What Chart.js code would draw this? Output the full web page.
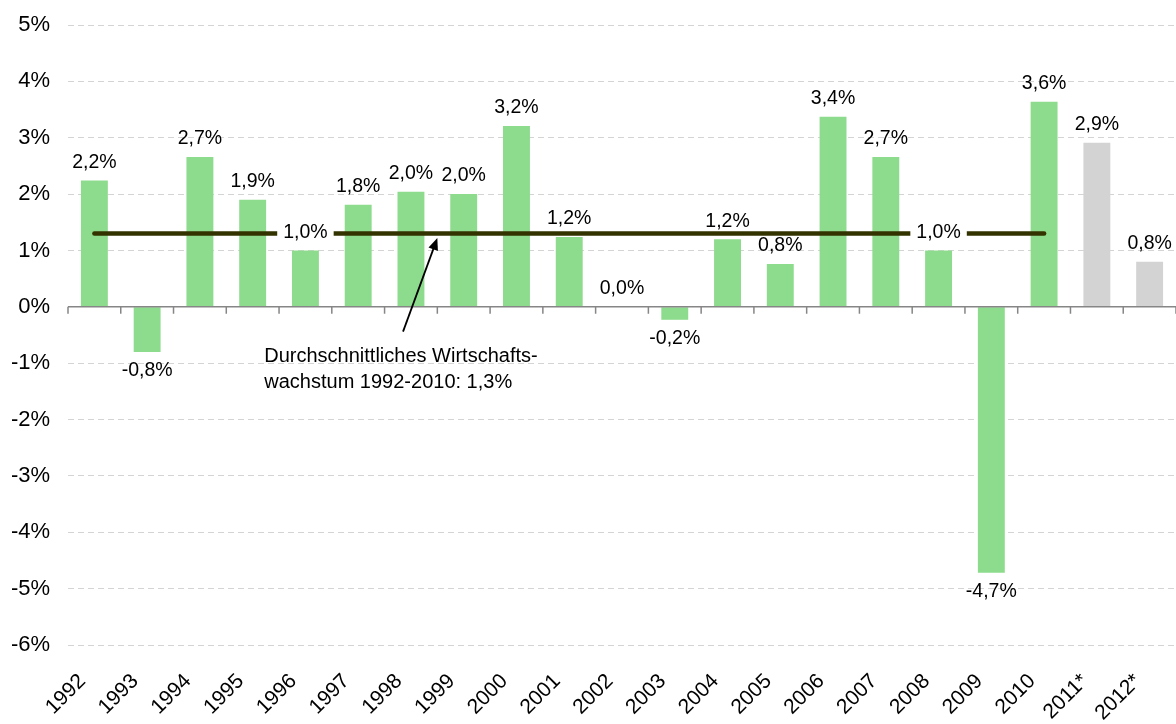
<!DOCTYPE html>
<html>
<head>
<meta charset="utf-8">
<script src="https://cdn.jsdelivr.net/npm/chart.js@4.4.1/dist/chart.umd.min.js"></script>
<style>
  html, body { margin: 0; padding: 0; background: #fff; }
  #wrap { width: 1176px; height: 724px; }
</style>
</head>
<body>
<div id="wrap"><canvas id="growthChart"></canvas></div>
<script>
const years = ['1992', '1993', '1994', '1995', '1996', '1997', '1998', '1999', '2000', '2001', '2002',
  '2003', '2004', '2005', '2006', '2007', '2008', '2009', '2010', '2011*', '2012*'];
const growth = [2.24, -0.8, 2.66, 1.9, 1.0, 1.81, 2.04, 2.0, 3.21, 1.24, 0.0,
  -0.23, 1.2, 0.76, 3.37, 2.66, 1.0, -4.72, 3.64, 2.91, 0.8];
const forecastYears = ['2011*', '2012*'];
const avgGrowth = 1.3;
const avgLastYear = '2010';
const yMin = -6;
const yMax = 5;
const noteLines = ['Durchschnittliches Wirtschafts-', 'wachstum 1992-2010: 1,3%'];

const FONT = "'Liberation Sans', Arial, sans-serif";
const GREEN = '#8ddb8c';
const GREY = '#d3d3d3';

function pct(v) {
  return v.toFixed(1).replace('.', ',') + '%';
}

const avgLine = years.map((y, i) => (i <= years.indexOf(avgLastYear) ? avgGrowth : null));

// zero line with small tick marks between the categories
const zeroAxis = {
  id: 'zeroAxis',
  afterDatasetsDraw(chart) {
    const { ctx, scales: { x, y }, chartArea } = chart;
    const y0 = y.getPixelForValue(0);
    ctx.save();
    ctx.strokeStyle = '#868686';
    ctx.lineWidth = 1.5;
    ctx.beginPath();
    ctx.moveTo(chartArea.left, y0);
    ctx.lineTo(chartArea.right, y0);
    for (let i = 0; i <= years.length; i++) {
      const px = x.getPixelForValue(i - 0.5);
      ctx.moveTo(px, y0);
      ctx.lineTo(px, y0 + 7);
    }
    ctx.stroke();
    ctx.restore();
  }
};

// value labels above / below the bars
const barLabels = {
  id: 'barLabels',
  afterDatasetsDraw(chart) {
    const { ctx, scales: { x, y } } = chart;
    const lineY = y.getPixelForValue(avgGrowth);
    const lineEnd = x.getPixelForValue(years.indexOf(avgLastYear));
    ctx.save();
    ctx.font = '19.5px ' + FONT;
    ctx.textAlign = 'center';
    ctx.textBaseline = 'middle';
    growth.forEach((v, i) => {
      const px = x.getPixelForValue(i);
      const ly = v < 0 ? y.getPixelForValue(v) + 19 : y.getPixelForValue(v) - 18;
      const text = pct(v);
      const w = ctx.measureText(text).width;
      if (Math.abs(ly - lineY) < 12 && px < lineEnd) {
        ctx.fillStyle = '#fff';
        ctx.fillRect(px - w / 2 - 6, ly - 11, w + 12, 22);
      }
      ctx.fillStyle = '#000';
      ctx.fillText(text, px, ly);
    });
    ctx.restore();
  }
};

// note text with arrow pointing at the average line
const avgNote = {
  id: 'avgNote',
  afterDatasetsDraw(chart) {
    const { ctx, scales: { x, y } } = chart;
    const tipX = x.getPixelForValue(6.5), tipY = y.getPixelForValue(1.22);
    const tailX = x.getPixelForValue(5.85), tailY = y.getPixelForValue(-0.44);
    ctx.save();
    ctx.strokeStyle = '#000';
    ctx.fillStyle = '#000';
    ctx.lineWidth = 1.8;
    const ang = Math.atan2(tipY - tailY, tipX - tailX);
    ctx.beginPath();
    ctx.moveTo(tailX, tailY);
    ctx.lineTo(tipX - 8 * Math.cos(ang), tipY - 8 * Math.sin(ang));
    ctx.stroke();
    ctx.beginPath();
    ctx.moveTo(tipX, tipY);
    ctx.lineTo(tipX - 12 * Math.cos(ang) + 5 * Math.sin(ang), tipY - 12 * Math.sin(ang) - 5 * Math.cos(ang));
    ctx.lineTo(tipX - 12 * Math.cos(ang) - 5 * Math.sin(ang), tipY - 12 * Math.sin(ang) + 5 * Math.cos(ang));
    ctx.closePath();
    ctx.fill();
    ctx.font = '20px ' + FONT;
    ctx.textAlign = 'left';
    ctx.textBaseline = 'middle';
    const tx = x.getPixelForValue(3.22);
    ctx.fillText(noteLines[0], tx, y.getPixelForValue(-0.88));
    ctx.fillText(noteLines[1], tx, y.getPixelForValue(-1.34));
    ctx.restore();
  }
};

new Chart(document.getElementById('growthChart'), {
  type: 'bar',
  data: {
    labels: years,
    datasets: [
      {
        type: 'line',
        data: avgLine,
        borderColor: '#333300',
        borderWidth: 4.5,
        borderCapStyle: 'round',
        pointRadius: 0,
        fill: false,
        order: 0
      },
      {
        data: growth,
        backgroundColor: years.map((y) => (forecastYears.includes(y) ? GREY : GREEN)),
        barPercentage: 0.51,
        categoryPercentage: 1,
        order: 1
      }
    ]
  },
  options: {
    responsive: true,
    maintainAspectRatio: false,
    animation: false,
    layout: { padding: { top: 25, right: 0, bottom: 0, left: 6 } },
    plugins: {
      legend: { display: false },
      tooltip: { enabled: false }
    },
    scales: {
      x: {
        grid: { display: false },
        border: { display: false },
        afterFit: (scale) => {
          scale.height = 79;
          scale.paddingLeft = 0;
          scale.paddingRight = 0;
        },
        ticks: {
          autoSkip: false,
          minRotation: 45,
          maxRotation: 45,
          color: '#000',
          font: { family: FONT, size: 21 },
          padding: 16,
          labelOffset: -12
        }
      },
      y: {
        min: yMin,
        max: yMax,
        afterFit: (scale) => {
          scale.width = 62;
          scale.paddingTop = 0;
          scale.paddingBottom = 0;
        },
        grid: {
          color: (ctx) => (ctx.tick && ctx.tick.value === 0 ? 'rgba(0,0,0,0)' : '#d4d4d4'),
          drawTicks: false,
          lineWidth: 1
        },
        border: { display: false, dash: [6, 4] },
        ticks: {
          stepSize: 1,
          color: '#000',
          font: { family: FONT, size: 22 },
          padding: 18,
          callback: (v) => v + '%'
        }
      }
    }
  },
  plugins: [zeroAxis, barLabels, avgNote]
});
</script>
</body>
</html>
